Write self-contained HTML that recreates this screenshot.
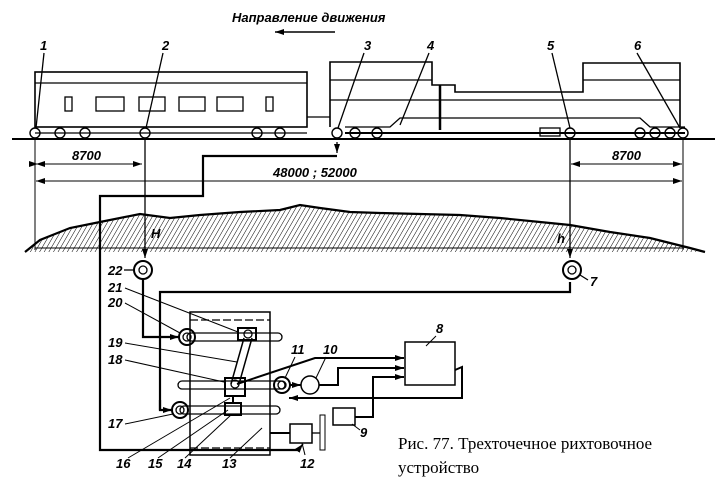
<!DOCTYPE html>
<html><head><meta charset="utf-8"><style>
html,body{margin:0;padding:0;background:#fff}
svg{display:block}
.t{font-family:"Liberation Sans",sans-serif;font-style:italic;font-weight:bold;font-size:13px;fill:#000}
.c{font-family:"Liberation Serif",serif;font-size:17px;fill:#000}
</style></head><body>
<svg width="723" height="492" viewBox="0 0 723 492" xmlns="http://www.w3.org/2000/svg">
<defs>
<marker id="a" markerUnits="userSpaceOnUse" markerWidth="9" markerHeight="6" refX="9" refY="3" orient="auto"><path d="M0,0 L9,3 L0,6z" fill="#000"/></marker>
<pattern id="h" width="4" height="4" patternUnits="userSpaceOnUse" patternTransform="rotate(30)"><line x1="0" y1="0" x2="0" y2="4" stroke="#000" stroke-width="1"/></pattern>
</defs>
<g fill="none" stroke="#000" stroke-width="1.3">
<text class="t" x="232" y="22" stroke="none">Направление движения</text>
<line x1="335" y1="32" x2="275" y2="32" marker-end="url(#a)" stroke-width="1.5"/>
<line x1="12" y1="139" x2="715" y2="139" stroke-width="2"/>
<rect x="35" y="72" width="272" height="55" stroke-width="1.6"/>
<line x1="35" y1="83" x2="307" y2="83"/>
<rect x="65" y="97" width="7" height="14"/><rect x="96" y="97" width="28" height="14"/><rect x="139" y="97" width="26" height="14"/><rect x="179" y="97" width="26" height="14"/><rect x="217" y="97" width="26" height="14"/><rect x="266" y="97" width="7" height="14"/>
<line x1="35" y1="133" x2="307" y2="133"/>
<path d="M330,127 V62 H432 V85 H455 V92 H583 V63 H680 V127" stroke-width="1.6"/>
<line x1="330" y1="80" x2="432" y2="80"/><line x1="583" y1="80" x2="680" y2="80"/>
<line x1="330" y1="100" x2="680" y2="100"/>
<path d="M345,127 H390 L400,118 H640 L650,127 H685"/>
<line x1="345" y1="133" x2="685" y2="133" stroke-width="2"/>
<line x1="440" y1="85" x2="440" y2="130" stroke-width="2.5"/>
<path d="M307,117 H330"/>
<rect x="540" y="128" width="20" height="8"/>
<g stroke-width="1.4">
<circle cx="35" cy="133" r="5"/><circle cx="60" cy="133" r="5"/><circle cx="85" cy="133" r="5"/><circle cx="145" cy="133" r="5"/><circle cx="257" cy="133" r="5"/><circle cx="280" cy="133" r="5"/>
<circle cx="337" cy="133" r="5"/><circle cx="355" cy="133" r="5"/><circle cx="377" cy="133" r="5"/><circle cx="570" cy="133" r="5"/><circle cx="640" cy="133" r="5"/><circle cx="655" cy="133" r="5"/><circle cx="670" cy="133" r="5"/><circle cx="683" cy="133" r="5"/>
</g>
<text class="t" x="40" y="50" stroke="none">1</text><line x1="44" y1="53" x2="36" y2="128"/>
<text class="t" x="162" y="50" stroke="none">2</text><line x1="163" y1="53" x2="146" y2="128"/>
<text class="t" x="364" y="50" stroke="none">3</text><line x1="364" y1="53" x2="338" y2="128"/>
<text class="t" x="427" y="50" stroke="none">4</text><line x1="429" y1="53" x2="400" y2="125"/>
<text class="t" x="547" y="50" stroke="none">5</text><line x1="552" y1="53" x2="570" y2="128"/>
<text class="t" x="634" y="50" stroke="none">6</text><line x1="637" y1="53" x2="680" y2="128"/>
<line x1="35" y1="140" x2="35" y2="250" stroke-width="1"/>
<line x1="683" y1="140" x2="683" y2="250" stroke-width="1"/>
<line x1="145" y1="140" x2="145" y2="258" marker-end="url(#a)"/>
<line x1="570" y1="140" x2="570" y2="258" marker-end="url(#a)"/>
<line x1="38" y1="164" x2="142" y2="164" marker-end="url(#a)" marker-start="url(#a)" stroke-width="1"/>
<line x1="60" y1="164" x2="36" y2="164" marker-end="url(#a)" stroke-width="1"/>
<text class="t" x="72" y="160" stroke="none">8700</text>
<line x1="573" y1="164" x2="682" y2="164" marker-end="url(#a)" stroke-width="1"/>
<line x1="600" y1="164" x2="571" y2="164" marker-end="url(#a)" stroke-width="1"/>
<text class="t" x="612" y="160" stroke="none">8700</text>
<line x1="60" y1="181" x2="36" y2="181" marker-end="url(#a)" stroke-width="1"/>
<line x1="38" y1="181" x2="682" y2="181" marker-end="url(#a)" stroke-width="1"/>
<text class="t" x="273" y="177" stroke="none">48000 ; 52000</text>
<path d="M25,252 L40,240 L70,228 L100,222 L140,214 L170,218 L200,215 L240,212 L280,210 L300,205 L320,208 L350,212 L380,213 L420,214 L460,215 L500,218 L540,222 L570,225 L610,232 L650,238 L690,248 L705,252 Z" fill="url(#h)" stroke="none"/>
<path d="M25,252 L40,240 L70,228 L100,222 L140,214 L170,218 L200,215 L240,212 L280,210 L300,205 L320,208 L350,212 L380,213 L420,214 L460,215 L500,218 L540,222 L570,225 L610,232 L650,238 L690,248 L705,252" stroke-width="2.2"/>
<line x1="35" y1="248" x2="683" y2="248" stroke-width="1"/>
<text class="t" x="151" y="238" stroke="none">H</text>
<text class="t" x="557" y="243" stroke="none">h</text>
<path d="M337,142 V153" marker-end="url(#a)"/>
<path d="M337,156 H203 V196 H100 V450 H298" stroke-width="2.2"/>
<line x1="298" y1="450" x2="303" y2="444" marker-end="url(#a)" stroke-width="1.5"/>
<circle cx="143" cy="270" r="9" stroke-width="2"/><circle cx="143" cy="270" r="4"/>
<circle cx="572" cy="270" r="9" stroke-width="2"/><circle cx="572" cy="270" r="4"/>
<text class="t" x="108" y="275" stroke="none">22</text><line x1="124" y1="270" x2="134" y2="270"/>
<text class="t" x="590" y="286" stroke="none">7</text><line x1="588" y1="280" x2="580" y2="275"/>
<path d="M143,279 V337 H179" stroke-width="2.2" marker-end="url(#a)"/>
<path d="M160,410 V292 H570 V282" stroke-width="2.2"/>
<path d="M160,400 V410 H172" stroke-width="2.2" marker-end="url(#a)"/>
<rect x="190" y="312" width="80" height="143" stroke-width="1.5"/>
<line x1="190" y1="320" x2="270" y2="320" stroke-dasharray="8,3"/>
<line x1="190" y1="448" x2="270" y2="448" stroke-dasharray="8,3"/>
<g stroke-width="1.3">
<rect x="187" y="333" width="95" height="8" rx="4"/>
<rect x="178" y="381" width="107" height="8" rx="4"/>
<rect x="180" y="406" width="100" height="8" rx="4"/>
</g>
<circle cx="187" cy="337" r="8" stroke-width="2"/><circle cx="187" cy="337" r="4"/>
<circle cx="180" cy="410" r="8" stroke-width="2"/><circle cx="180" cy="410" r="4"/>
<rect x="238" y="328" width="18" height="12" stroke-width="2"/><circle cx="248" cy="334" r="4"/>
<rect x="225" y="378" width="20" height="18" stroke-width="2"/><circle cx="235" cy="384" r="4"/>
<rect x="225" y="403" width="16" height="12" stroke-width="2"/>
<path d="M244,338 L231,384 M252,338 L239,384" stroke-width="1.5"/>
<line x1="233" y1="396" x2="233" y2="403" stroke-width="2"/>
<circle cx="282" cy="385" r="8" stroke-width="2"/><circle cx="282" cy="385" r="4"/>
<circle cx="310" cy="385" r="9" stroke-width="1.5"/>
<line x1="290" y1="385" x2="301" y2="385" stroke-width="2" marker-end="url(#a)"/>
<rect x="405" y="342" width="50" height="43" stroke-width="1.5"/>
<rect x="333" y="408" width="22" height="17" stroke-width="1.5"/>
<rect x="290" y="424" width="22" height="19" stroke-width="1.5"/>
<path d="M270,433 H290" stroke-width="2"/>
<rect x="320" y="415" width="5" height="35" stroke-width="1"/>
<path d="M312,433 H320"/>
<path d="M237,384 L315,358 H404" stroke-width="2" marker-end="url(#a)"/>
<path d="M319,385 H338 V368 H404" stroke-width="2" marker-end="url(#a)"/>
<path d="M355,417 H373 V377 H404" stroke-width="2" marker-end="url(#a)"/>
<path d="M455,370 L462,367 V398 H289" stroke-width="2" marker-end="url(#a)"/>
<g stroke="none">
<text class="t" x="108" y="292">21</text><text class="t" x="108" y="307">20</text>
<text class="t" x="108" y="347">19</text><text class="t" x="108" y="364">18</text>
<text class="t" x="108" y="428">17</text>
<text class="t" x="116" y="468">16</text><text class="t" x="148" y="468">15</text><text class="t" x="177" y="468">14</text><text class="t" x="222" y="468">13</text><text class="t" x="300" y="468">12</text>
<text class="t" x="360" y="437">9</text><text class="t" x="291" y="354">11</text><text class="t" x="323" y="354">10</text><text class="t" x="436" y="333">8</text>
</g>
<line x1="125" y1="288" x2="238" y2="332" stroke-width="1"/>
<line x1="125" y1="303" x2="180" y2="333" stroke-width="1"/>
<line x1="125" y1="343" x2="237" y2="362" stroke-width="1"/>
<line x1="125" y1="360" x2="224" y2="382" stroke-width="1"/>
<line x1="125" y1="424" x2="173" y2="414" stroke-width="1"/>
<line x1="128" y1="458" x2="230" y2="398" stroke-width="1"/>
<line x1="158" y1="458" x2="228" y2="410" stroke-width="1"/>
<line x1="185" y1="458" x2="232" y2="414" stroke-width="1"/>
<line x1="230" y1="458" x2="262" y2="428" stroke-width="1"/>
<line x1="305" y1="455" x2="302" y2="443" stroke-width="1"/>
<line x1="360" y1="430" x2="352" y2="424" stroke-width="1"/>
<line x1="295" y1="357" x2="285" y2="378" stroke-width="1"/>
<line x1="326" y1="357" x2="316" y2="378" stroke-width="1"/>
<line x1="436" y1="336" x2="426" y2="346" stroke-width="1"/>
<text class="c" x="398" y="449" stroke="none">Рис. 77. Трехточечное рихтовочное</text>
<text class="c" x="398" y="473" stroke="none">устройство</text>
</g>
</svg>
</body></html>
